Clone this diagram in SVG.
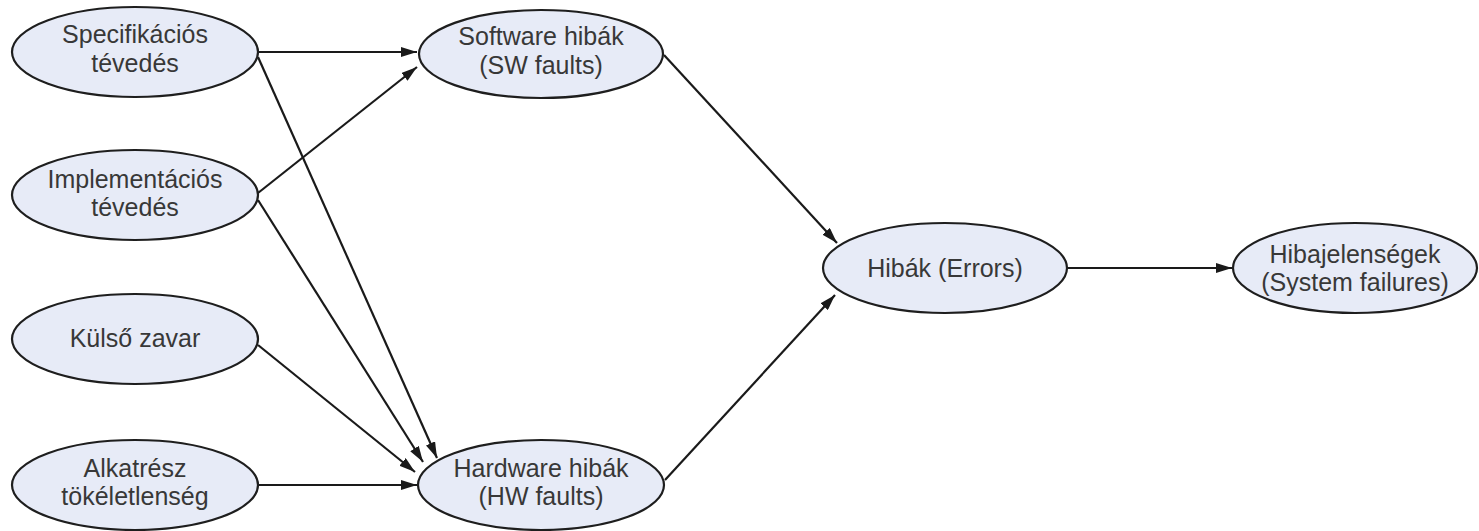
<svg xmlns="http://www.w3.org/2000/svg" width="1479" height="531" viewBox="0 0 1479 531">
<style>
.node ellipse{fill:#e7ebf7;stroke:#1e1e1e;stroke-width:2.2}
.node text{font-family:"Liberation Sans",Arial,sans-serif;font-size:25px;fill:#383838;text-anchor:middle}
.edges line{stroke:#1a1a1a;stroke-width:2.2;marker-end:url(#arr)}
</style>
<defs>
<marker id="arr" viewBox="0 0 16 10" refX="16" refY="5" markerWidth="16" markerHeight="10" markerUnits="userSpaceOnUse" orient="auto">
<path d="M0,0 L16,5 L0,10 z" fill="#1a1a1a"/>
</marker>
</defs>
<rect width="1479" height="531" fill="#fff"/>
<g class="edges">
<line x1="258" y1="52" x2="417" y2="52"/>
<line x1="258" y1="57" x2="437" y2="458"/>
<line x1="258" y1="193" x2="417" y2="67"/>
<line x1="258" y1="200" x2="423" y2="462"/>
<line x1="258" y1="345" x2="415" y2="472"/>
<line x1="258" y1="485" x2="417" y2="485"/>
<line x1="664" y1="55" x2="837" y2="243"/>
<line x1="665" y1="480" x2="835" y2="295"/>
<line x1="1068" y1="268" x2="1232" y2="268"/>
</g>
<g id="spec" class="node"><ellipse cx="135" cy="52" rx="123" ry="45"/><text x="135" y="43">Specifikációs</text><text x="135" y="72">tévedés</text></g>
<g id="impl" class="node"><ellipse cx="135" cy="195" rx="123" ry="45"/><text x="135" y="188">Implementációs</text><text x="135" y="216">tévedés</text></g>
<g id="kulso" class="node"><ellipse cx="135" cy="339" rx="123" ry="45"/><text x="135" y="347">Külső zavar</text></g>
<g id="alk" class="node"><ellipse cx="135" cy="485" rx="123" ry="45"/><text x="135" y="477">Alkatrész</text><text x="135" y="505">tökéletlenség</text></g>
<g id="sw" class="node"><ellipse cx="541" cy="54" rx="122" ry="44"/><text x="541" y="45">Software hibák</text><text x="541" y="74">(SW faults)</text></g>
<g id="hw" class="node"><ellipse cx="541" cy="485" rx="123" ry="45"/><text x="541" y="477">Hardware hibák</text><text x="541" y="505">(HW faults)</text></g>
<g id="errors" class="node"><ellipse cx="945" cy="268" rx="122" ry="45"/><text x="945" y="277">Hibák (Errors)</text></g>
<g id="failures" class="node"><ellipse cx="1355" cy="268" rx="122" ry="45"/><text x="1355" y="263">Hibajelenségek</text><text x="1355" y="291">(System failures)</text></g>
</svg>
